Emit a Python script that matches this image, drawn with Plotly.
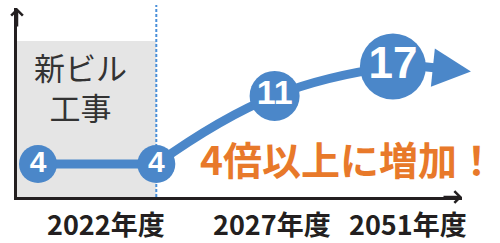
import math
import plotly.graph_objects as go

# ---- data ----
periods = ["工事中", "2022年度", "2027年度", "2051年度"]
values = [4, 4, 11, 17]
tick_labels = ["2022年度", "2027年度", "2051年度"]
box_label = "新ビル<br>工事"
headline = "4倍以上に増加！"

# ---- styling / layout constants ----
W, H = 500, 243
ML, MR, MT, MB = 17, 38, 8, 46
PW, PH = W - ML - MR, H - MT - MB
BLUE = "#4b87c9"
ORANGE = "#e8792a"
AXIS = "#231f20"
FONT = "Noto Sans CJK JP"
X_MIN, X_MAX = -0.1775, 3.584
Y_RANGE = [0.3892, 1.6086]


def px_x(px):
    return (px - ML) / PW


def px_y(py):
    return (H - MB - py) / PH


fig = go.Figure()

# flat segment during construction
fig.add_trace(go.Scatter(
    x=periods[:2], y=values[:2], mode="lines",
    line=dict(color=BLUE, width=9), cliponaxis=False, hoverinfo="skip"))
# growth curve
fig.add_trace(go.Scatter(
    x=periods[1:], y=values[1:], mode="lines",
    line=dict(color=BLUE, width=9, shape="spline", smoothing=1.3),
    cliponaxis=False, hoverinfo="skip"))
# circles with numbers
fig.add_trace(go.Scatter(
    x=periods, y=values, mode="markers+text",
    text=[str(v) for v in values], textposition="middle center",
    marker=dict(color=BLUE, size=[38, 38, 50, 66], opacity=1, line=dict(width=0)),
    textfont=dict(color="white", size=[30, 30, 34, 44], family="Liberation Sans", weight="bold"),
    cliponaxis=False, hoverinfo="skip"))

shapes = [
    dict(type="rect", xref="x", yref="paper", x0=X_MIN, x1=periods.index("2022年度"),
         y0=0, y1=px_y(41), fillcolor="#e5e5e5", line=dict(width=0), layer="below"),
    dict(type="line", xref="x", yref="paper", x0=periods.index("2022年度"),
         x1=periods.index("2022年度"), y0=0, y1=px_y(5),
         line=dict(color="#4a90d9", width=2, dash="3px,2px"), layer="below"),
]

annotations = [
    # axis arrowheads
    dict(xref="paper", yref="paper", x=1, y=0, ax=-20, ay=0, text="", showarrow=True,
         arrowhead=4, arrowwidth=2.5, arrowsize=0.9, arrowcolor=AXIS),
    dict(xref="paper", yref="paper", x=0, y=1, ax=0, ay=20, text="", showarrow=True,
         arrowhead=4, arrowwidth=2.5, arrowsize=0.9, arrowcolor=AXIS),
    # growth arrow after the last point
    dict(xref="x", yref="y", x=periods[-1], y=math.log10(values[-1]), ax=-48, ay=-5,
         xshift=78, yshift=-5, text="", showarrow=True, arrowhead=2, arrowwidth=9,
         arrowsize=0.85, arrowcolor=BLUE),
    # box label
    dict(xref="paper", yref="paper", x=px_x(80), y=px_y(86), text=box_label, showarrow=False,
         xanchor="center", yanchor="middle", align="center", borderpad=0,
         font=dict(family=FONT, size=31, color="#333333")),
    # headline
    dict(xref="paper", yref="paper", x=px_x(348), y=px_y(158), text=headline, showarrow=False,
         xanchor="center", yanchor="middle", borderpad=0,
         font=dict(family=FONT, size=39, color=ORANGE, weight="bold")),
]
for lbl, cx in zip(tick_labels, [106, 272, 408]):
    annotations.append(dict(xref="paper", yref="paper", x=px_x(cx), y=px_y(223), text=lbl,
                            showarrow=False, xanchor="center", yanchor="middle", borderpad=0,
                            font=dict(family=FONT, size=27, color="#231f20", weight="bold")))

fig.update_layout(
    width=W, height=H, margin=dict(l=ML, r=MR, t=MT, b=MB),
    paper_bgcolor="white", plot_bgcolor="white", showlegend=False,
    xaxis=dict(type="category", categoryorder="array", categoryarray=periods,
               range=[X_MIN, X_MAX], showgrid=False, zeroline=False, showticklabels=False,
               ticks="", showline=True, linecolor=AXIS, linewidth=2.5, fixedrange=True),
    yaxis=dict(type="log", range=Y_RANGE, showgrid=False, zeroline=False, showticklabels=False,
               ticks="", showline=True, linecolor=AXIS, linewidth=2.5, fixedrange=True),
    shapes=shapes, annotations=annotations,
)

fig.write_html("out.html", config={"displayModeBar": False},
               post_script="document.body.style.margin='0';document.body.style.padding='0';")
